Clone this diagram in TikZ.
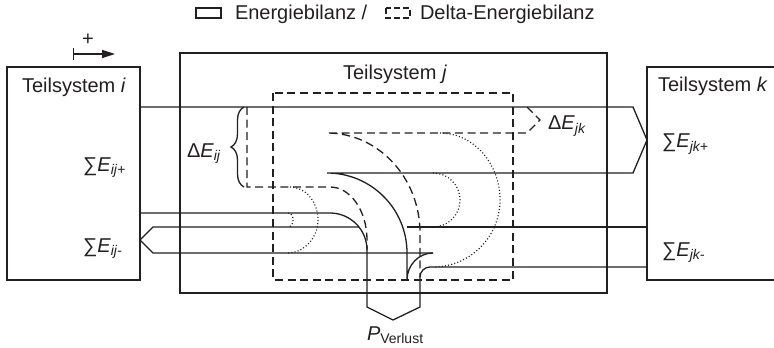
\documentclass[tikz,border=0pt]{standalone}
\usepackage{fontspec}
\setmainfont{Liberation Sans}
\usetikzlibrary{arrows.meta,decorations.pathreplacing}
\definecolor{ink}{RGB}{35,31,32}
\begin{document}
\begin{tikzpicture}[x=0.5pt,y=-0.5pt,
  every node/.style={inner sep=0pt,outer sep=0pt,font=\fontsize{10}{12}\selectfont,text=ink},
  solidln/.style={draw=ink,line width=0.65pt,line join=miter},
  dashln/.style={draw=ink,line width=0.65pt,dash pattern=on 4pt off 2.3pt},
  dotln/.style={draw=ink,line width=0.6pt,dash pattern=on 0.5pt off 1.1pt},
  lbl/.style={anchor=base west}]
\useasboundingbox (0,0) rectangle (774,347);
% legend
\draw[solidln] (196,8) rectangle (221,18);
\node[lbl] (leg1) at (235,20) {Energiebilanz /};
\draw[dashln,dash pattern=on 3pt off 1.5pt] (386,8) rectangle (410,18);
\node[lbl] (leg2) at (420,20) {Delta-Energiebilanz};
% plus arrow
\node (plus) at (88,40) {+};
\draw[ink,line width=0.65pt,{Bar[width=6pt]}-{Triangle[length=6.5pt,width=4pt]}] (73,54) -- (115,54);
% boxes
\draw[solidln] (7,67) rectangle (140,280);
\draw[solidln] (180,53) rectangle (607,293);
\draw[solidln] (790,67) -- (647,67) -- (647,280) -- (790,280);
\node[lbl] (ti) at (22,93) {Teilsystem \textit{i}};
\node[anchor=base] (tj) at (395,80) {Teilsystem \textit{j}};
\node[lbl] (tk) at (658,92) {Teilsystem \textit{k}};
% solid flows
\draw[solidln] (140,107) -- (633,107) -- (647,140) -- (633,173) -- (327,173)
  .. controls (371.2,173) and (407,208.8) .. (407,253) -- (407,280)
  .. controls (407,265.1) and (418.6,253) .. (433,253);
\draw[solidln] (140,213) -- (330,213) .. controls (350.4,213) and (367,229.6) .. (367,250)
  -- (367,307) -- (393,320) -- (420,307) -- (420,277)
  .. controls (420,271.5) and (424.5,267) .. (430,267) -- (647,267);
\draw[solidln] (359,227) -- (153,227) -- (140,240) -- (153,253) -- (433,253);
\draw[solidln] (407,227) -- (647,227);
% dashed
\draw[dashln] (273,93) rectangle (513,280);
\draw[dashln] (247,107) -- (247,187) -- (330,187)
  .. controls (350.4,187) and (367,210.7) .. (367,240) -- (367,250);
\draw[dashln] (527,107) -- (540,120) -- (527,133) -- (327,133)
  .. controls (378.4,133) and (420,177.8) .. (420,233) -- (420,277);
% dotted
\draw[dotln] (290,187) .. controls (305.5,187) and (318,201.8) .. (318,220)
  .. controls (318,238.2) and (303.5,253) .. (288,253);
\draw[dotln] (288,213) .. controls (291,213) and (293,216) .. (293,220)
  .. controls (293,224) and (291,227) .. (288,227);
\draw[dotln] (440,133) .. controls (473,133) and (500,163) .. (500,200)
  .. controls (500,237) and (470,267) .. (433,267);
\draw[dotln] (433,173) .. controls (448,173) and (460,185) .. (460,200)
  .. controls (460,215) and (448,227) .. (433,227);
% brace
\draw[ink,line width=0.65pt,decorate,decoration={brace,amplitude=6.5pt}] (244,187) -- (244,107);
% labels
\node[lbl] (eijp) at (83,171) {∑\textit{E}\textsubscript{\textit{ij+}}};
\node[lbl] (eijm) at (83,252) {∑\textit{E}\textsubscript{\textit{ij-}}};
\node[lbl] (ejkp) at (662,148) {∑\textit{E}\textsubscript{\textit{jk+}}};
\node[lbl] (ejkm) at (662,256) {∑\textit{E}\textsubscript{\textit{jk-}}};
\node[lbl] (dij) at (187,157) {Δ\textit{E}\textsubscript{\textit{ij}}};
\node[lbl] (djk) at (548,130) {Δ\textit{E}\textsubscript{\textit{jk}}};
\node[lbl] (pv) at (367,340) {\textit{P}\textsubscript{Verlust}};
\end{tikzpicture}
\end{document}
